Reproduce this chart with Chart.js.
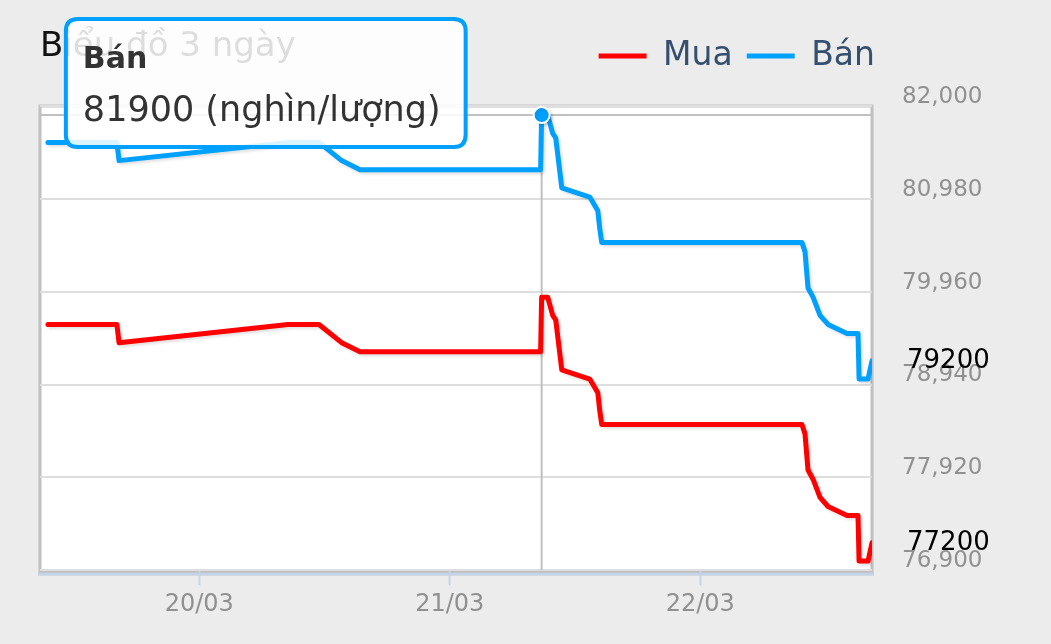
<!DOCTYPE html>
<html>
<head>
<meta charset="utf-8">
<script src="https://cdn.jsdelivr.net/npm/chart.js@4/dist/chart.umd.min.js"></script>
<style>
  html, body { margin: 0; padding: 0; background: #ececec; }
  canvas { display: block; }
</style>
</head>
<body>
<canvas id="gold-chart" width="1051" height="644"></canvas>
<script>
// hours counted from 19/03 00:00
const times = [9.5, 16.11, 16.31, 32.5, 35.47, 37.64, 39.4, 56.7, 56.8, 57.38, 57.86, 58.15,
  58.73, 61.41, 62.18, 62.37, 62.56, 81.74, 82.03, 82.32, 82.8, 83.47, 84.24, 86.06,
  87.11, 87.21, 88.07, 88.45];
const mua = [79600, 79600, 79400, 79600, 79600, 79400, 79300, 79300, 79900, 79900, 79700, 79650,
  79100, 79000, 78850, 78650, 78500, 78500, 78400, 78000, 77900, 77700, 77600, 77500,
  77500, 77000, 77000, 77200];
const ban = [81600, 81600, 81400, 81600, 81600, 81400, 81300, 81300, 81900, 81900, 81700, 81650,
  81100, 81000, 80850, 80650, 80500, 80500, 80400, 80000, 79900, 79700, 79600, 79500,
  79500, 79000, 79000, 79200];

const xTickHours = [24, 48, 72];
const xLabels = ["20/03", "21/03", "22/03"];
const yTicks = [76900, 77920, 78940, 79960, 80980, 82000];

const RED = "#ff0000";
const BLUE = "#00a0ff";

Chart.defaults.font.family = "'DejaVu Sans', sans-serif";

Chart.Tooltip.positioners.leftOfPoint = function (items) {
  if (!items.length) return false;
  const el = items[0].element;
  return { x: el.x, y: el.y - 32 };
};

const framePlugin = {
  id: "frame",
  afterLayout(chart) {
    // legend ends a little to the right of the plot
    chart.legend.right = chart.chartArea.right + 17;
  },
  beforeDraw(chart) {
    const { ctx, chartArea: a } = chart;
    ctx.save();
    ctx.fillStyle = "#ffffff";
    ctx.fillRect(a.left, a.top, a.right - a.left, a.bottom - a.top);
    ctx.strokeStyle = "#c0c0c0";
    ctx.lineWidth = 3;
    ctx.strokeRect(a.left, a.top, a.right - a.left, a.bottom - a.top + 1.5);
    ctx.restore();
  },
  beforeDatasetsDraw(chart) {
    const { ctx, chartArea: a } = chart;
    ctx.save();
    ctx.strokeStyle = "#c4d4e4";
    ctx.lineWidth = 3;
    ctx.beginPath();
    ctx.moveTo(a.left - 2, a.bottom + 4);
    ctx.lineTo(a.right + 2, a.bottom + 4);
    ctx.stroke();
    // crosshair on the active point
    const act = chart.getActiveElements();
    if (act.length) {
      const p = act[0].element;
      ctx.strokeStyle = "#c0c0c0";
      ctx.lineWidth = 2;
      ctx.beginPath();
      ctx.moveTo(p.x, a.top);
      ctx.lineTo(p.x, a.bottom);
      ctx.moveTo(a.left, p.y);
      ctx.lineTo(a.right, p.y);
      ctx.stroke();
    }
    ctx.restore();
    ctx.save();
    ctx.shadowColor = "rgba(0,0,0,0.13)";
    ctx.shadowOffsetX = 2;
    ctx.shadowOffsetY = 2;
    ctx.shadowBlur = 3;
  },
  afterDatasetsDraw(chart) {
    chart.ctx.restore();
  },
  afterDraw(chart) {
    const { ctx, chartArea: a } = chart;
    const y = chart.scales.y;
    ctx.save();
    ctx.fillStyle = "#000";
    ctx.font = "26px 'DejaVu Sans'";
    ctx.textAlign = "left";
    ctx.textBaseline = "middle";
    chart.data.datasets.forEach((ds) => {
      const last = ds.data[ds.data.length - 1].y;
      ctx.fillText(String(last), a.right + 35, y.getPixelForValue(last));
    });
    ctx.restore();
  },
};

const chart = new Chart(document.getElementById("gold-chart").getContext("2d"), {
  type: "line",
  data: {
    datasets: [
      {
        label: "Mua",
        data: times.map((t, i) => ({ x: t, y: mua[i] })),
        borderColor: RED,
        backgroundColor: RED,
        borderWidth: 5,
        pointRadius: 0,
        pointHoverRadius: 8,
        pointHoverBorderWidth: 2,
        pointHoverBorderColor: "#ffffff",
        pointHoverBackgroundColor: RED,
        borderJoinStyle: "round",
        borderCapStyle: "round",
        tension: 0,
      },
      {
        label: "Bán",
        data: times.map((t, i) => ({ x: t, y: ban[i] })),
        borderColor: BLUE,
        backgroundColor: BLUE,
        borderWidth: 5,
        pointRadius: 0,
        pointHoverRadius: 8,
        pointHoverBorderWidth: 2,
        pointHoverBorderColor: "#ffffff",
        pointHoverBackgroundColor: BLUE,
        borderJoinStyle: "round",
        borderCapStyle: "round",
        tension: 0,
      },
    ],
  },
  options: {
    responsive: false,
    animation: false,
    devicePixelRatio: 1,
    events: [],
    layout: { padding: { left: 40, right: 0, top: 0, bottom: 20 } },
    plugins: {
      title: {
        display: true,
        text: "Biểu đồ 3 ngày",
        align: "start",
        color: "#111111",
        font: { size: 34, weight: "normal" },
        padding: { top: 26.6, bottom: -41.9 },
      },
      // empty spacer between the legend and the plot
      subtitle: {
        display: true,
        text: "",
        weight: 500,
        font: { size: 10 },
        padding: { top: 11.5, bottom: 0 },
      },
      legend: {
        position: "top",
        align: "end",
        labels: {
          boxWidth: 48,
          boxHeight: 5,
          padding: 14,
          color: "#35506e",
          font: { size: 33 },
          generateLabels(c) {
            return Chart.defaults.plugins.legend.labels.generateLabels(c).map((l) => {
              l.fillStyle = l.strokeStyle;
              l.lineWidth = 0;
              return l;
            });
          },
        },
      },
      tooltip: {
        position: "leftOfPoint",
        xAlign: "right",
        yAlign: "center",
        caretSize: 0,
        caretPadding: 76,
        backgroundColor: "rgba(255,255,255,0.86)",
        borderColor: BLUE,
        borderWidth: 4,
        cornerRadius: 12,
        titleColor: "#333333",
        bodyColor: "#333333",
        titleFont: { size: 30, weight: "bold" },
        bodyFont: { size: 35 },
        titleMarginBottom: 13,
        padding: { top: 23, bottom: 14, left: 17, right: 25 },
        displayColors: false,
        callbacks: {
          title: (items) => items[0].dataset.label,
          label: (c) => c.parsed.y + " (nghìn/lượng)",
        },
      },
    },
    scales: {
      x: {
        type: "linear",
        min: 8.74,
        max: 88.45,
        afterBuildTicks: (s) => {
          s.ticks = xTickHours.map((v) => ({ value: v }));
        },
        grid: {
          drawOnChartArea: false,
          drawTicks: true,
          tickLength: 15,
          tickColor: "#c4d4e4",
          tickWidth: 2,
        },
        border: { display: false },
        ticks: {
          padding: 5,
          color: "#909090",
          font: { size: 24 },
          maxRotation: 0,
          autoSkip: false,
          callback: (v, i) => xLabels[i],
        },
      },
      y: {
        position: "right",
        min: 76900,
        max: 82000,
        afterBuildTicks: (s) => {
          s.ticks = yTicks.map((v) => ({ value: v }));
        },
        afterFit: (s) => {
          s.width = 179;
        },
        grid: { color: "#dedede", lineWidth: 2, drawTicks: false },
        border: { display: false },
        ticks: {
          padding: 30,
          labelOffset: -9,
          color: "#909090",
          font: { size: 23 },
          callback: (v) => v.toLocaleString("en-US"),
        },
      },
    },
  },
  plugins: [framePlugin],
});

const peak = ban.indexOf(Math.max(...ban));
const pick = [{ datasetIndex: 1, index: peak }];
chart.setActiveElements(pick);
chart.tooltip.setActiveElements(pick, { x: 0, y: 0 });
chart.update();
</script>
</body>
</html>
